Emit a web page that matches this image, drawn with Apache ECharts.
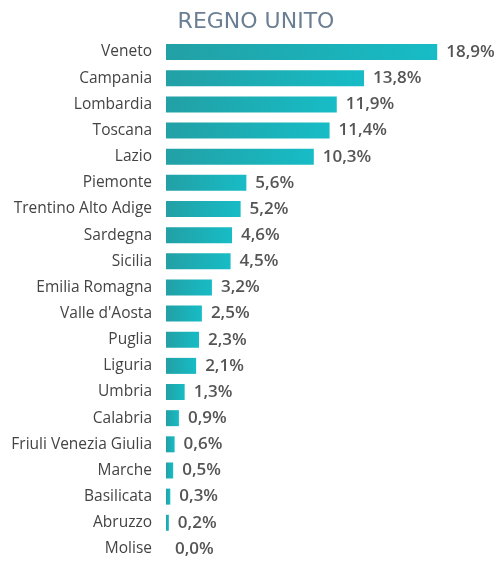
<!DOCTYPE html>
<html>
<head>
<meta charset="utf-8">
<script src="https://cdn.jsdelivr.net/npm/echarts@6/dist/echarts.min.js"></script>
<style>
  html, body { margin: 0; padding: 0; background: #fff; }
  #chart { width: 500px; height: 562px; }
</style>
</head>
<body>
<div id="chart"></div>
<script>
// dati
var regioni = ['Veneto', 'Campania', 'Lombardia', 'Toscana', 'Lazio', 'Piemonte',
  'Trentino Alto Adige', 'Sardegna', 'Sicilia', 'Emilia Romagna', "Valle d'Aosta",
  'Puglia', 'Liguria', 'Umbria', 'Calabria', 'Friuli Venezia Giulia', 'Marche',
  'Basilicata', 'Abruzzo', 'Molise']
var quote = [18.9, 13.8, 11.9, 11.4, 10.3, 5.6, 5.2, 4.6, 4.5, 3.2, 2.5, 2.3, 2.1,
  1.3, 0.9, 0.6, 0.5, 0.3, 0.2, 0.0]
var titolo = 'REGNO UNITO'

var chart = echarts.init(document.getElementById('chart'))
chart.setOption({
  animation: false,
  title: {
    text: titolo,
    left: 251,
    textAlign: 'center',
    top: 6,
    textStyle: { fontFamily: 'DejaVu Sans', fontWeight: 'normal', fontSize: 22, color: '#6b7f94' }
  },
  grid: { left: 166, top: 39, width: 287, height: 527 },
  xAxis: { type: 'value', min: 0, max: 20, show: false },
  yAxis: {
    type: 'category',
    inverse: true,
    data: regioni,
    axisLine: { show: false },
    axisTick: { show: false },
    axisLabel: { margin: 14, fontFamily: 'Open Sans', fontSize: 15.5, color: '#444' }
  },
  series: [{
    type: 'bar',
    data: quote,
    barWidth: 16,
    itemStyle: {
      color: new echarts.graphic.LinearGradient(0, 0, 1, 0, [
        { offset: 0, color: '#22a0a5' },
        { offset: 1, color: '#17bcc6' }
      ])
    },
    label: {
      show: true,
      position: 'right',
      distance: 9,
      fontFamily: 'Open Sans',
      fontWeight: 600,
      fontSize: 17,
      color: '#555',
      formatter: function (p) { return p.value.toFixed(1).replace('.', ',') + '%' }
    }
  }]
})
</script>
</body>
</html>
